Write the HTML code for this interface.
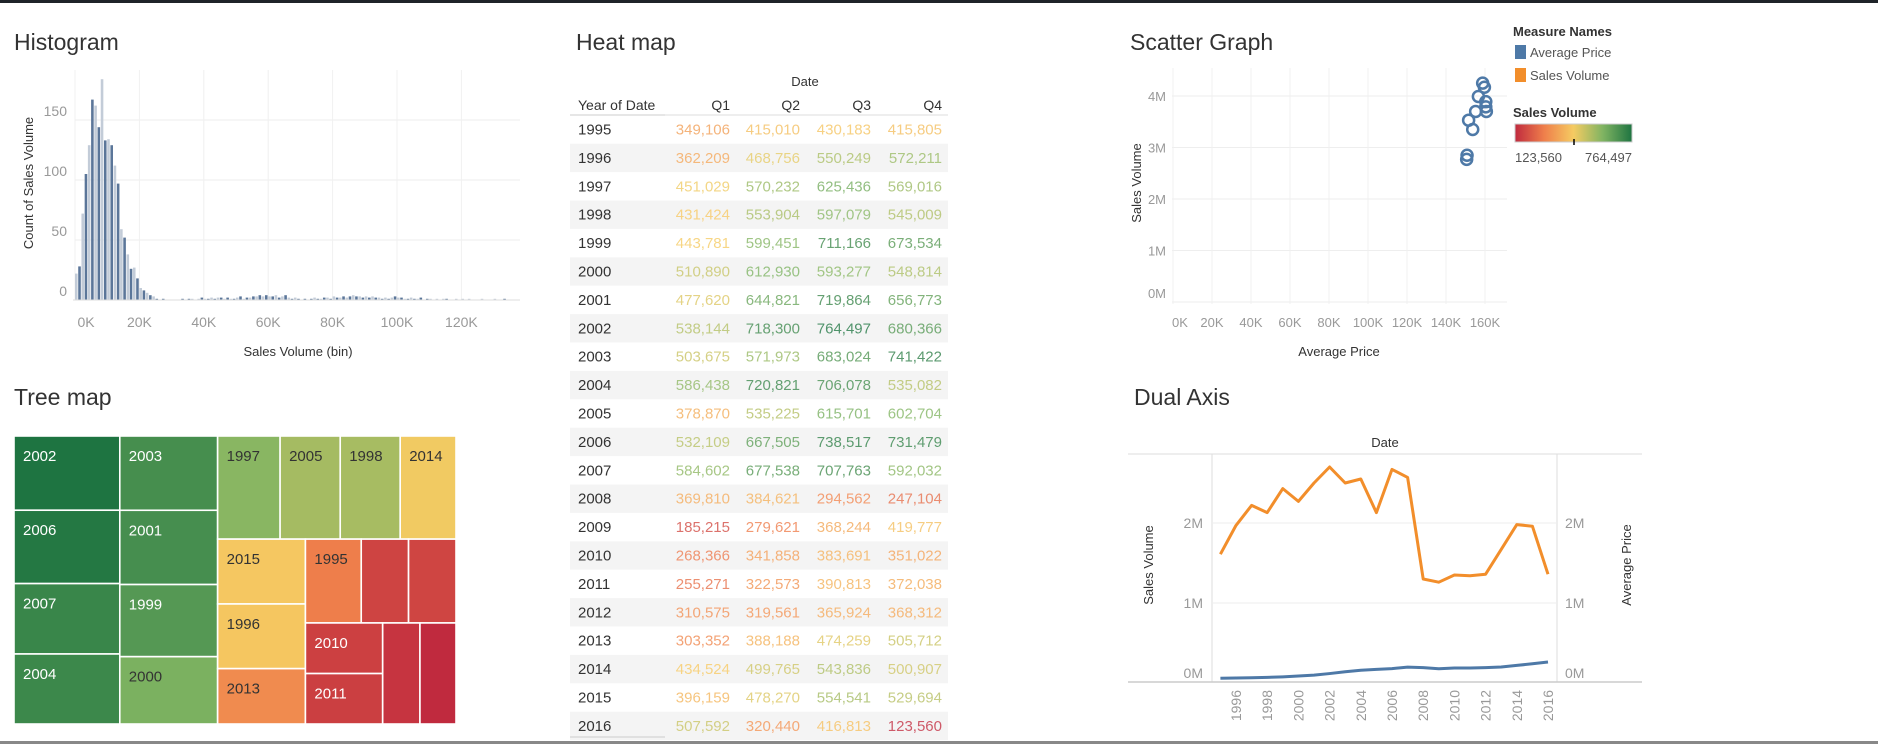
<!DOCTYPE html>
<html><head><meta charset="utf-8"><style>
html,body{margin:0;padding:0;background:#fff;}
svg{display:block;font-family:"Liberation Sans",sans-serif;}
</style></head><body>
<svg id="c" width="1878" height="744" viewBox="0 0 1878 744" xmlns="http://www.w3.org/2000/svg">
<rect x="0" y="0" width="1878" height="3" fill="#1f2329"/>
<rect x="0" y="741" width="1878" height="3" fill="#888"/>
<g id="hist"></g>
<g id="tree"></g>
<g id="heat"></g>
<g id="scat"></g>
<g id="legend"></g>
<g id="dual"></g>
</svg>
<script>
// ---------- DATA ----------
const histCounts = [22,28,72,105,129,167,162,144,184,133,134,129,112,97,59,52,38,26,27,18,10,8,6,4,3,1,0,1,0,0,0,0,0,1,0,1,1,0,1,2,1,1,2,1,2,2,1,2,1,1,2,3,1,2,2,3,3,4,3,4,3,3,4,2,3,4,2,1,2,1,0,1,0,1,2,1,1,2,2,1,3,2,2,3,2,3,4,3,3,2,3,2,3,2,2,1,2,1,2,3,2,2,1,1,2,1,1,2,0,1,1,0,1,0,1,1,0,0,1,0,1,0,1,0,0,0,1,0,0,0,1,0,0,1];
const histYTicks = [0,50,100,150];
const histXTicks = [0,20,40,60,80,100,120];

const years = [1995,1996,1997,1998,1999,2000,2001,2002,2003,2004,2005,2006,2007,2008,2009,2010,2011,2012,2013,2014,2015,2016];
const quarters = ["Q1","Q2","Q3","Q4"];
const q1 = [349106,362209,451029,431424,443781,510890,477620,538144,503675,586438,378870,532109,584602,369810,185215,268366,255271,310575,303352,434524,396159,507592];
const q2 = [415010,468756,570232,553904,599451,612930,644821,718300,571973,720821,535225,667505,677538,384621,279621,341858,322573,319561,388188,499765,478270,320440];
const q3 = [430183,550249,625436,597079,711166,593277,719864,764497,683024,706078,615701,738517,707763,294562,368244,383691,390813,365924,474259,543836,554541,416813];
const q4 = [415805,572211,569016,545009,673534,548814,656773,680366,741422,535082,602704,731479,592032,247104,419777,351022,372038,368312,505712,500907,529694,123560];

const scatterPrice = [158.8,159.7,156.6,160.4,160.4,160.7,155.2,151.6,153.7,150.8,150.6];
const scatterSales = [4.25,4.17,3.99,3.89,3.79,3.70,3.70,3.53,3.35,2.85,2.77];
const scatterXTicks = [0,20,40,60,80,100,120,140,160];
const scatterYTicks = [0,1,2,3,4];

const dualSales = [1.61,1.97,2.22,2.13,2.43,2.27,2.50,2.70,2.50,2.55,2.13,2.67,2.57,1.30,1.26,1.35,1.34,1.36,1.67,1.98,1.96,1.36];
const dualPrice = [0.060,0.062,0.065,0.070,0.077,0.088,0.098,0.118,0.140,0.160,0.170,0.180,0.198,0.192,0.178,0.188,0.188,0.192,0.200,0.220,0.240,0.262];
const dualYTicks = [0,1,2];
const dualXLabels = [1996,1998,2000,2002,2004,2006,2008,2010,2012,2014,2016];

// ---------- HELPERS ----------
const NS="http://www.w3.org/2000/svg";
function mk(parent,tag,attrs,text){const e=document.createElementNS(NS,tag);for(const k in attrs)e.setAttribute(k,attrs[k]);if(text!==undefined)e.textContent=text;parent.appendChild(e);return e;}
const stops=[[0,[192,42,62]],[0.25,[239,127,75]],[0.5,[245,203,98]],[0.75,[128,180,98]],[1,[30,116,65]]];
function colorAt(t,mix){t=Math.max(0,Math.min(1,t));let i=0;while(i<stops.length-2&&t>stops[i+1][0])i++;const a=stops[i],b=stops[i+1];const f=(t-a[0])/(b[0]-a[0]);let c=a[1].map((v,j)=>v+(b[1][j]-v)*f);if(mix)c=c.map(v=>v+(255-v)*mix);return "rgb("+c.map(Math.round).join(",")+")";}
function title(g,x,y,t,name){const e=mk(g,"text",{x:x,y:y,"font-size":23,fill:"#333"},t);return e;}

// ---------- HISTOGRAM ----------
(function(){
const g=document.getElementById('hist');
title(g,14,50,"Histogram","histogram-title");
const x0=75,pxPerK=3.22,yBase=300,pxPerCount=1.2;
const X=k=>x0+k*pxPerK, Y=c=>yBase-c*pxPerCount;
histYTicks.forEach(v=>{if(v>0){const l=mk(g,"line",{x1:x0,x2:520,y1:Y(v),y2:Y(v),stroke:"#eee"});}
 const t=mk(g,"text",{x:67,y:Y(v)-4,"text-anchor":"end","font-size":14,fill:"#999"},v);});
histXTicks.forEach(v=>{const l=mk(g,"line",{x1:X(v),x2:X(v),y1:70,y2:yBase,stroke:"#f0f0f0"});
 const t=mk(g,"text",{x:X(v)+(v===0?11:0),y:327,"text-anchor":"middle","font-size":14,fill:"#999"},v+"K");});
histCounts.forEach((c,i)=>{if(c<=0)return;const r=mk(g,"rect",{x:X(i),y:Y(c),width:pxPerK*0.8,height:c*pxPerCount,fill:(i%2? "#5b7699":"#c3ccd8")});});
mk(g,"line",{x1:x0-2,x2:520,y1:yBase,y2:yBase,stroke:"#ddd"});
const xt=mk(g,"text",{x:298,y:356,"text-anchor":"middle","font-size":13,fill:"#333"},"Sales Volume (bin)");
const yt=mk(g,"text",{x:0,y:0,transform:"translate(33,183) rotate(-90)","text-anchor":"middle","font-size":13,fill:"#333"},"Count of Sales Volume");
})();

// ---------- TREEMAP ----------
(function(){
const g=document.getElementById('tree');
title(g,14,405,"Tree map","treemap-title");
const tot=years.map((y,i)=>q1[i]+q2[i]+q3[i]+q4[i]);
const T={};years.forEach((y,i)=>T[y]=tot[i]);
const mn=Math.min(...tot),mx=Math.max(...tot);
const stretch=t=>t>0.5?0.5+0.5*Math.pow((t-0.5)/0.5,0.7):t;
const L=y=>({leaf:y});
const layout={d:"h",c:[{d:"v",c:[L(2002),L(2006),L(2007),L(2004)]},{d:"v",c:[L(2003),L(2001),L(1999),L(2000)]},
 {d:"v",c:[{d:"h",c:[L(1997),L(2005),L(1998),L(2014)]},{d:"h",c:[{d:"v",c:[L(2015),L(1996),L(2013)]},{d:"v",c:[{d:"h",c:[L(1995),L(2012),L(2016)]},{d:"h",c:[{d:"v",c:[L(2010),L(2011)]},L(2008),L(2009)]}]}]}]}]};
const labeled=new Set([2002,2006,2007,2004,2003,2001,1999,2000,1997,2005,1998,2014,2015,1996,2013,1995,2010,2011]);
function sum(n){return n.leaf?T[n.leaf]:n.c.reduce((a,b)=>a+sum(b),0);}
function place(n,x,y,w,h){
 if(n.leaf){const t=stretch((T[n.leaf]-mn)/(mx-mn));const col=colorAt(t);
  const r=mk(g,"rect",{x:x,y:y,width:w,height:h,fill:col,stroke:"#fff","stroke-width":1.6});
  if(labeled.has(n.leaf)){const light=(t>0.8||t<0.15);const tx=mk(g,"text",{x:x+9,y:y+25,"font-size":15,fill:light?"#fff":"#333"},n.leaf);}
  return;}
 const s=sum(n);let off=0;
 n.c.forEach(ch=>{const f=sum(ch)/s;if(n.d==="h"){place(ch,x+off,y,w*f,h);off+=w*f;}else{place(ch,x,y+off,w,h*f);off+=h*f;}});
}
place(layout,14,436,442,288);
})();

// ---------- HEAT MAP ----------
(function(){
const g=document.getElementById('heat');
title(g,576,50,"Heat map","heatmap-title");
const mn=123560,mx=764497;
const d=mk(g,"text",{x:805,y:86,"text-anchor":"middle","font-size":13,fill:"#333"},"Date");
const h=mk(g,"text",{x:578,y:110,"font-size":14,fill:"#333"},"Year of Date");
const colR=[730,800,871,942];
quarters.forEach((q,j)=>{const t=mk(g,"text",{x:colR[j],y:110,"text-anchor":"end","font-size":14,fill:"#333"},q);});
mk(g,"line",{x1:570,x2:665,y1:115,y2:115,stroke:"#ccc"});
mk(g,"line",{x1:665,x2:948,y1:115,y2:115,stroke:"#ddd"});
const cols=[q1,q2,q3,q4];
years.forEach((y,i)=>{const cy=129.5+i*28.4;
 if(i%2===1){const b=mk(g,"rect",{x:570,y:cy-14.2,width:378,height:28.4,fill:"#f4f4f4"});}
 const yl=mk(g,"text",{x:578,y:cy+5,"font-size":15,fill:"#333"},y);
 cols.forEach((arr,j)=>{const v=arr[i];const t=mk(g,"text",{x:colR[j],y:cy+5,"text-anchor":"end","font-size":15,fill:colorAt((v-mn)/(mx-mn),0.22)},v.toLocaleString('en-US'));});
});
mk(g,"line",{x1:570,x2:665,y1:737,y2:737,stroke:"#ccc"});
})();

// ---------- SCATTER ----------
(function(){
const g=document.getElementById('scat');
title(g,1130,50,"Scatter Graph","scatter-title");
const X=v=>1173+v/20*39, Y=v=>302-v*51.5;
scatterYTicks.forEach(v=>{const l=mk(g,"line",{x1:1172,x2:1507,y1:Y(v),y2:Y(v),stroke:"#eee"});
 const t=mk(g,"text",{x:1166,y:Y(v)+(v===0?-4:5),"text-anchor":"end","font-size":13,fill:"#999"},v+"M");});
scatterXTicks.forEach(v=>{const l=mk(g,"line",{x1:X(v),x2:X(v),y1:68,y2:304,stroke:"#f0f0f0"});
 const t=mk(g,"text",{x:X(v)+(v===0?7:0),y:327,"text-anchor":"middle","font-size":13,fill:"#999"},v+"K");});
scatterPrice.forEach((p,i)=>{const c=mk(g,"circle",{cx:X(p),cy:Y(scatterSales[i]),r:5.5,fill:"none",stroke:"#4e79a7","stroke-width":2.5});});
const xt=mk(g,"text",{x:1339,y:356,"text-anchor":"middle","font-size":13,fill:"#333"},"Average Price");
const yt=mk(g,"text",{x:0,y:0,transform:"translate(1141,183) rotate(-90)","text-anchor":"middle","font-size":13,fill:"#333"},"Sales Volume");
})();

// ---------- LEGEND ----------
(function(){
const g=document.getElementById('legend');
const t1=mk(g,"text",{x:1513,y:36,"font-size":13,"font-weight":"bold",fill:"#333"},"Measure Names");
const items=[["Average Price","#4e79a7",52],["Sales Volume","#f28e2b",75]];
items.forEach(it=>{const r=mk(g,"rect",{x:1515,y:it[2]-7,width:11,height:14,fill:it[1]});
 const t=mk(g,"text",{x:1530,y:it[2]+5,"font-size":13,fill:"#555"},it[0]);});
const t2=mk(g,"text",{x:1513,y:117,"font-size":13,"font-weight":"bold",fill:"#333"},"Sales Volume");
const defs=mk(g,"defs",{});const lg=mk(defs,"linearGradient",{id:"grad",x1:0,x2:1,y1:0,y2:0});
[0,0.25,0.5,0.75,1].forEach(s=>mk(lg,"stop",{offset:s,"stop-color":colorAt(s)}));
const gb=mk(g,"rect",{x:1515,y:124,width:117,height:18,fill:"url(#grad)",stroke:"#ccc"});
mk(g,"line",{x1:1574,x2:1574,y1:139,y2:145,stroke:"#000","stroke-width":1.5});
const a=mk(g,"text",{x:1515,y:162,"font-size":13,fill:"#555"},"123,560");
const b=mk(g,"text",{x:1632,y:162,"text-anchor":"end","font-size":13,fill:"#555"},"764,497");
})();

// ---------- DUAL AXIS ----------
(function(){
const g=document.getElementById('dual');
title(g,1134,405,"Dual Axis","dual-axis-title");
const X=y=>1220.4+(y-1995)*15.6, Y=v=>683-v*80;
const dt=mk(g,"text",{x:1385,y:447,"text-anchor":"middle","font-size":13,fill:"#333"},"Date");
mk(g,"line",{x1:1128,x2:1642,y1:454,y2:454,stroke:"#ddd"});
mk(g,"rect",{x:1212,y:454,width:345,height:228,fill:"none",stroke:"#ddd"});
dualYTicks.forEach(v=>{if(v>0){const l=mk(g,"line",{x1:1212,x2:1557,y1:Y(v),y2:Y(v),stroke:"#eee"});}
 const t=mk(g,"text",{x:1203,y:Y(v)+(v===0?-5:5),"text-anchor":"end","font-size":14,fill:"#999"},v+"M");
 const t2=mk(g,"text",{x:1565,y:Y(v)+(v===0?-5:5),"font-size":14,fill:"#999"},v+"M");});
mk(g,"line",{x1:1128,x2:1642,y1:682,y2:682,stroke:"#ccc","stroke-width":1.5});
dualXLabels.forEach(y=>{const t=mk(g,"text",{x:0,y:0,transform:"translate("+(X(y)+5)+",690) rotate(-90)","text-anchor":"end","font-size":14,fill:"#999"},y);});
const ps=years.map((y,i)=>X(y)+","+Y(dualSales[i])).join(" ");
const l1=mk(g,"polyline",{points:ps,fill:"none",stroke:"#f28e2b","stroke-width":3,"stroke-linejoin":"round"});
const pp=years.map((y,i)=>X(y)+","+Y(dualPrice[i])).join(" ");
const l2=mk(g,"polyline",{points:pp,fill:"none",stroke:"#4e79a7","stroke-width":3,"stroke-linejoin":"round"});
const a=mk(g,"text",{x:0,y:0,transform:"translate(1153,565) rotate(-90)","text-anchor":"middle","font-size":13,fill:"#333"},"Sales Volume");
const b=mk(g,"text",{x:0,y:0,transform:"translate(1631,565) rotate(-90)","text-anchor":"middle","font-size":13,fill:"#333"},"Average Price");
})();
</script>
</body></html>
